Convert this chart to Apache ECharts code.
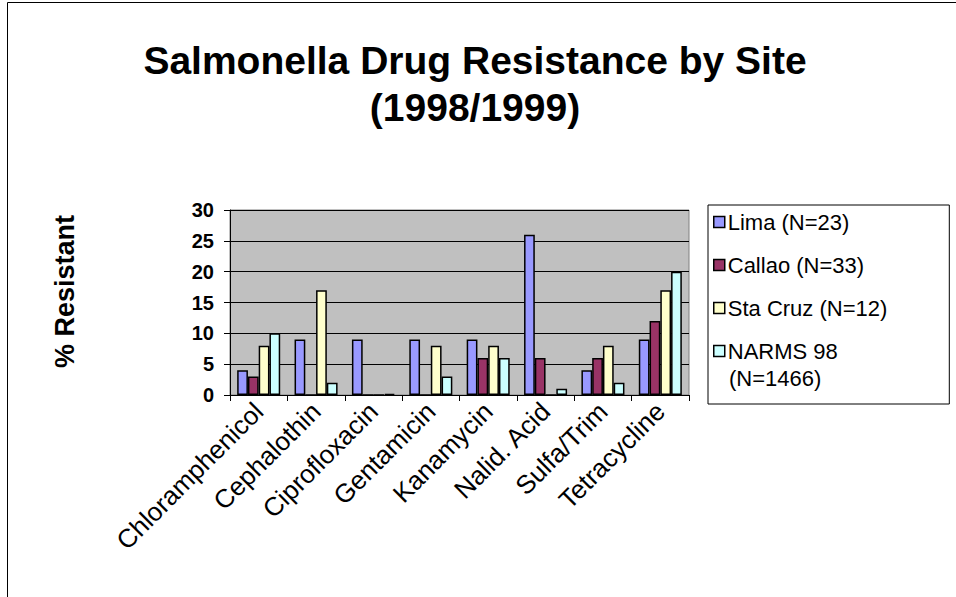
<!DOCTYPE html>
<html><head><meta charset="utf-8">
<script src="https://cdn.jsdelivr.net/npm/echarts@6/dist/echarts.min.js"></script>
<style>html,body{margin:0;padding:0;background:#fff}#c{width:956px;height:597px}</style>
</head><body><div id="c"></div>
<script>
const categories = ['Chloramphenicol','Cephalothin','Ciprofloxacin','Gentamicin','Kanamycin','Nalid. Acid','Sulfa/Trim','Tetracycline'];
const seriesNames = ['Lima (N=23)','Callao (N=33)','Sta Cruz (N=12)','NARMS 98 (N=1466)'];
const lima    = [4, 9, 9, 9, 9, 26, 4, 9];
const callao  = [3, 0, 0, 0, 6, 6, 6, 12];
const staCruz = [8, 17, 0, 8, 8, 0, 8, 17];
const narms   = [10, 2, 0.2, 3, 6, 1, 2, 20];
const yTicks = [0, 5, 10, 15, 20, 25, 30];

const colors = ['#9999FF','#993366','#FFFFCC','#CCFFFF'];
const values = [lima, callao, staCruz, narms];
const F = 'Arial, "Liberation Sans", sans-serif';
const LEG = 22;

const chart = echarts.init(document.getElementById('c'), null, {renderer:'svg'});
chart.setOption({
  animation:false,
  backgroundColor:'#fff',
  title:{
    text:'Salmonella Drug Resistance by Site\n(1998/1999)',
    left:470, top:32, textAlign:'center',
    textStyle:{fontFamily:F, fontWeight:'bold', fontSize:39, lineHeight:47, color:'#000'}
  },
  graphic:[
    {type:'rect', left:5, top:0, shape:{width:950, height:596}, style:{fill:'none', stroke:'#000', lineWidth:1}, silent:true, z:-1},
    {type:'text', left:729, top:367, style:{text:'(N=1466)', font:LEG+'px Arial, "Liberation Sans", sans-serif', fill:'#000'}, z:10}
  ],
  legend:{
    orient:'vertical', left:708, top:205,
    padding:[6,62,42,5], itemGap:21,
    itemWidth:11, itemHeight:11, itemStyle:{borderColor:'#000', borderWidth:1.5},
    borderColor:'#000', borderWidth:1,
    icon:'rect',
    formatter:n => n.replace(' (N=1466)',''),
    data: seriesNames,
    textStyle:{fontFamily:F, fontSize:LEG, color:'#000', lineHeight:22, padding:[0,0,0,-2]}
  },
  grid:{left:230, right:267, top:210, bottom:202, show:true, backgroundColor:'#C0C0C0', borderColor:'#808080', borderWidth:1},
  xAxis:{
    type:'category', data:categories,
    axisLine:{lineStyle:{color:'#000', width:1}},
    axisTick:{show:true, length:6, lineStyle:{color:'#000'}},
    axisLabel:{rotate:45, interval:0, margin:12, fontFamily:F, fontSize:26, color:'#000'}
  },
  yAxis:{
    type:'value', min:yTicks[0], max:yTicks[yTicks.length-1], interval:5,
    name:'% Resistant', nameLocation:'middle', nameGap:152, nameRotate:90,
    nameTextStyle:{fontFamily:F, fontWeight:'bold', fontSize:27, color:'#000', padding:[0,0,0,22]},
    axisLine:{show:true, lineStyle:{color:'#000', width:1}},
    axisTick:{show:true, length:6, lineStyle:{color:'#000'}},
    axisLabel:{margin:16, fontFamily:F, fontWeight:'bold', fontSize:20, color:'#000'},
    splitLine:{lineStyle:{color:'#000', width:1}}
  },
  series: seriesNames.map((n,i)=>({
    name:n, type:'bar', data:values[i],
    barGap:'0%', barCategoryGap:'25%',
    itemStyle:{color:colors[i], borderColor:'#000', borderWidth:1.5}
  }))
});
</script></body></html>
